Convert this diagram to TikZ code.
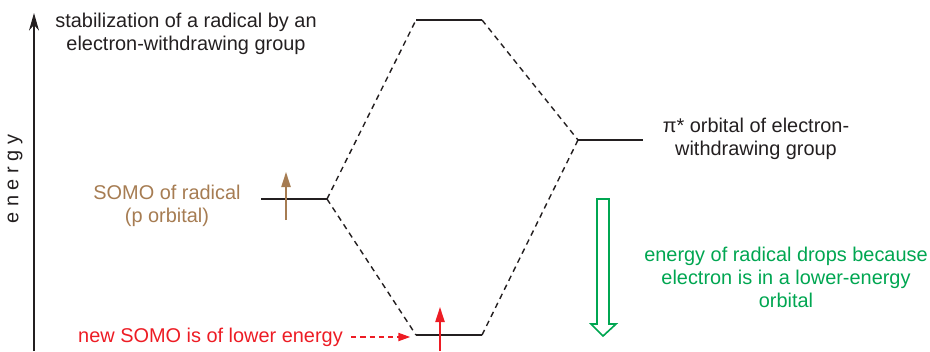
\documentclass[tikz,border=0pt]{standalone}
\usepackage{fontspec}
\setmainfont{Liberation Sans}
\usetikzlibrary{arrows.meta,positioning}
\definecolor{radbrown}{RGB}{166,124,82}
\definecolor{ewgreen}{RGB}{0,166,81}
\definecolor{somored}{RGB}{237,28,36}
\definecolor{inkgrey}{RGB}{35,31,32}
\tikzset{
  lbl/.style={font=\fontsize{17}{19.6}\selectfont,align=center,inner sep=0pt,text=inkgrey},
  level/.style={line width=1.4pt,inkgrey},
  mix/.style={dash pattern=on 4.8pt off 3.8pt,line width=1.2pt,inkgrey},
  spin/.style={-{Triangle[length=13pt,width=8pt]},line width=1.3pt}
}

\begin{document}
\begin{tikzpicture}[x=0.03cm,y=-0.03cm]
  \useasboundingbox (0,0) rectangle (930,351);
  % Energy axis
  \coordinate (axisfoot) at (34,351);
  \coordinate (axistop) at (34,13);
  \draw[-{Stealth[length=15pt,width=8.5pt]},line width=0.9pt,inkgrey] (axisfoot) -- (axistop);
  \node[lbl,rotate=90] (axislbl) at (15,179) {e n e r g y};
  \node[lbl] (title) at (186,34) {stabilization of a radical by an\\electron-withdrawing group};
  % Levels
  \coordinate (somoL) at (261,199);  \coordinate (somoR) at (327,199);
  \coordinate (highL) at (416,20);   \coordinate (highR) at (482,20);
  \coordinate (lowL) at (416,335);   \coordinate (lowR) at (482,335);
  \coordinate (pistarL) at (578,140); \coordinate (pistarR) at (643,140);
  \foreach \a/\b in {somoL/somoR,highL/highR,lowL/lowR,pistarL/pistarR}
    \draw[level] (\a) -- (\b);
  % Mixing
  \draw[mix] (somoR) -- (highL);
  \draw[mix] (somoR) -- (lowL);
  \draw[mix] (highR) -- (pistarL);
  \draw[mix] (lowR) -- (pistarL);
  % Electrons
  \coordinate (upA) at (286,220); \coordinate (upB) at (286,172);
  \draw[spin,radbrown] (upA) -- (upB);
  \coordinate (upC) at (440,351); \coordinate (upD) at (440,307);
  \draw[spin,somored] (upC) -- (upD);
  % Labels
  \node[lbl,text=radbrown] (somolbl) at (167,206) {SOMO of radical\\(p orbital)};
  \node[lbl] (pistarlbl) at (756,139) {π* orbital of electron-\\withdrawing group};
  \node[lbl,text=ewgreen] (droplbl) at (786,277) {energy of radical drops because\\electron is in a lower-energy\\orbital};
  \node[lbl,text=somored,anchor=east] (newsomo) at (343,337) {new SOMO is of lower energy};
  \draw[somored,line width=1pt,dash pattern=on 4.3pt off 3.6pt,-{Triangle[length=10pt,width=7pt]},
        shorten <=7pt,shorten >=5pt] (newsomo.east) -- (newsomo.east -| lowL);
  % Drop arrow
  \draw[ewgreen,line width=1.4pt,line join=miter]
    (597,199) -- (609,199) -- (609,324) -- (616,324) -- (603,336) -- (591,324) -- (597,324) -- cycle;
\end{tikzpicture}
\end{document}
